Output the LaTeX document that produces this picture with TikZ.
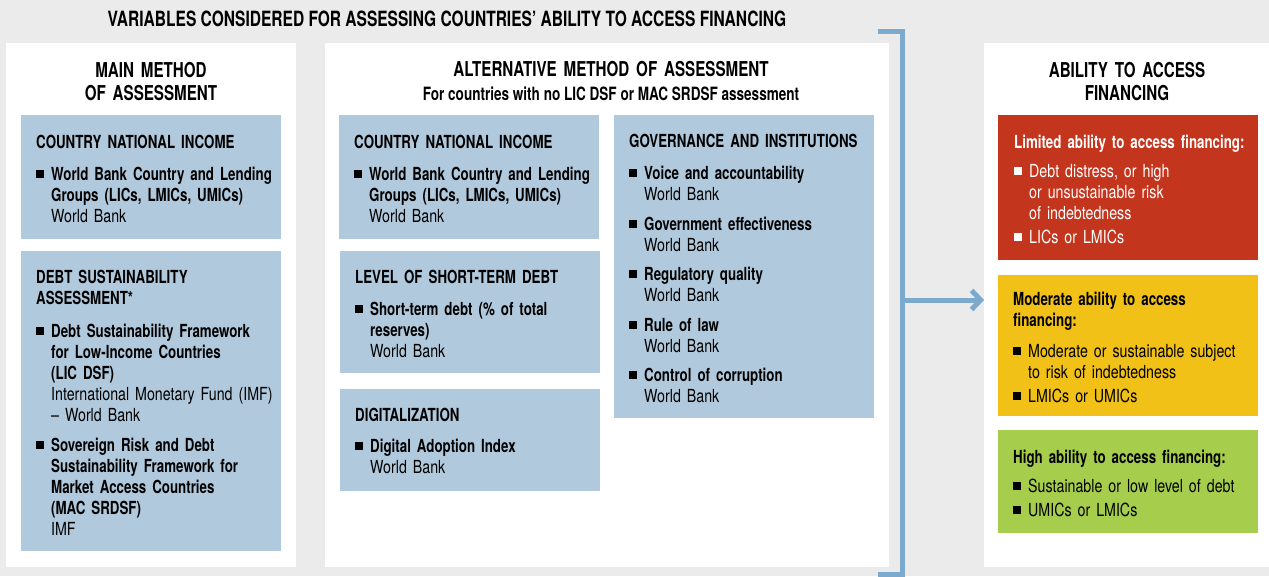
\documentclass[tikz,border=0pt]{standalone}
\usepackage{fontspec}
\setmainfont{TeX Gyre Heros}[FakeStretch=0.79, BoldFeatures={FakeStretch=0.74}]
\usetikzlibrary{positioning,arrows.meta}

\definecolor{bggray}{HTML}{EBEBEB}
\definecolor{boxblue}{HTML}{B1C9DC}
\definecolor{linkblue}{HTML}{7BAACE}
\definecolor{limred}{HTML}{C4351D}
\definecolor{modyellow}{HTML}{F1C117}
\definecolor{highgreen}{HTML}{A6CD4C}

% bullet square, heading and list item inside the boxes
\newcommand\sqbullet{\rule[2.5pt]{8pt}{8pt}}
\newcommand\boxhead[2][11pt]{{\bfseries #2\par}\vspace{#1}}
\newcommand\bitem[1]{\par\hangindent=15pt\hangafter=1\noindent\makebox[15pt][l]{\sqbullet}#1\par}
\newcommand\igap[1][8.5pt]{\vspace{#1}}

\tikzset{
  panel/.style={fill=white, inner sep=0, outer sep=0, anchor=north west},
  bluebox/.style={fill=boxblue, inner sep=0, outer sep=0, anchor=north west,
    minimum width=260},
  boxtxt/.style={inner sep=0, anchor=base west, text width=245, align=left,
    font=\fontsize{18}{21}\selectfont},
  panelhead/.style={inner sep=0, anchor=base, text width=330, align=center,
    font=\bfseries\fontsize{20.5}{23}\selectfont},
  bracket/.style={draw=linkblue, line width=5pt, line join=miter},
  linkarrow/.style={draw=linkblue, line width=5pt,
    -{Straight Barb[length=9pt,width=19pt]}}
}

\begin{document}
\begin{tikzpicture}[x=1pt,y=-1pt]
  \fill[bggray] (0,0) rectangle (1269,576);
  \useasboundingbox (0,0) rectangle (1269,576);

  \node[inner sep=0, anchor=base, font=\bfseries\fontsize{21}{24}\selectfont]
    (title) at (447,26.7) {VARIABLES CONSIDERED FOR ASSESSING COUNTRIES’ ABILITY TO ACCESS FINANCING};

  % three white panels
  \node[panel, minimum width=290, minimum height=524] (mainpanel) at (6,43) {};
  \node[panel, minimum width=564, minimum height=524] (altpanel) at (325,43) {};
  \node[panel, minimum width=285, minimum height=524] (abilpanel) at (984,43) {};

  \node[panelhead] (mainhead) at (151,77) {MAIN METHOD\\OF ASSESSMENT};
  \node[panelhead, text width=500] (althead) at (611,76.7) {ALTERNATIVE METHOD OF ASSESSMENT};
  \node[inner sep=0, anchor=base, font=\bfseries\fontsize{18.3}{20}\selectfont]
    (altsub) at (611,100) {For countries with no LIC DSF or MAC SRDSF assessment};
  \node[panelhead] (abilhead) at (1127,77) {ABILITY TO ACCESS\\FINANCING};

  % main method
  \node[bluebox, minimum height=124] (mainincome) at (21,115) {};
  \node[boxtxt] (mainincometxt) at ([shift={(15,33)}]mainincome.north west) {%
    \boxhead{COUNTRY NATIONAL INCOME}
    \bitem{\textbf{World Bank Country and Lending}\newline\textbf{Groups (LICs, LMICs, UMICs)}\newline World Bank}};

  \node[bluebox, minimum height=300] (maindebt) at (21,251) {};
  \node[boxtxt] (maindebttxt) at ([shift={(15,32)}]maindebt.north west) {%
    \boxhead[12pt]{DEBT SUSTAINABILITY\\ASSESSMENT*}
    \bitem{\textbf{Debt Sustainability Framework}\newline\textbf{for Low-Income Countries}\newline\textbf{(LIC DSF)}\newline International Monetary Fund (IMF)\newline– World Bank}
    \igap[9pt]
    \bitem{\textbf{Sovereign Risk and Debt}\newline\textbf{Sustainability Framework for}\newline\textbf{Market Access Countries}\newline\textbf{(MAC SRDSF)}\newline IMF}};

  % alternative method
  \node[bluebox, minimum height=124] (altincome) at (339,115) {};
  \node[boxtxt] (altincometxt) at ([shift={(15,33)}]altincome.north west) {%
    \boxhead{COUNTRY NATIONAL INCOME}
    \bitem{\textbf{World Bank Country and Lending}\newline\textbf{Groups (LICs, LMICs, UMICs)}\newline World Bank}};

  \node[bluebox, minimum height=122] (altshort) at (340,251) {};
  \node[boxtxt] (altshorttxt) at ([shift={(15,32.5)}]altshort.north west) {%
    \boxhead{LEVEL OF SHORT-TERM DEBT}
    \bitem{\textbf{Short-term debt (\% of total}\newline\textbf{reserves)}\newline World Bank}};

  \node[bluebox, minimum height=102] (altdigital) at (340,389) {};
  \node[boxtxt] (altdigitaltxt) at ([shift={(15,32.7)}]altdigital.north west) {%
    \boxhead[10pt]{DIGITALIZATION}
    \bitem{\textbf{Digital Adoption Index}\newline World Bank}};

  \node[bluebox, minimum height=303] (altgov) at (614,115) {};
  \node[boxtxt] (altgovtxt) at ([shift={(15,32.7)}]altgov.north west) {%
    \boxhead{GOVERNANCE AND INSTITUTIONS}
    \bitem{\textbf{Voice and accountability}\newline World Bank}\igap
    \bitem{\textbf{Government effectiveness}\newline World Bank}\igap
    \bitem{\textbf{Regulatory quality}\newline World Bank}\igap
    \bitem{\textbf{Rule of law}\newline World Bank}\igap
    \bitem{\textbf{Control of corruption}\newline World Bank}};

  % ability to access financing
  \node[bluebox, fill=limred, minimum height=145] (limited) at (998,115) {};
  \node[boxtxt, text=white] (limitedtxt) at ([shift={(16,33.3)}]limited.north west) {%
    \boxhead[8.5pt]{Limited ability to access financing:}
    \bitem{Debt distress, or high\newline or unsustainable risk\newline of indebtedness}\igap[3pt]
    \bitem{LICs or LMICs}};

  \node[bluebox, fill=modyellow, minimum height=141] (moderate) at (998,275) {};
  \node[boxtxt] (moderatetxt) at ([shift={(15,30)}]moderate.north west) {%
    \boxhead[10pt]{Moderate ability to access\\financing:}
    \bitem{Moderate or sustainable subject\newline to risk of indebtedness}\igap[3pt]
    \bitem{LMICs or UMICs}};

  \node[bluebox, fill=highgreen, minimum height=103] (high) at (998,430) {};
  \node[boxtxt] (hightxt) at ([shift={(15,33.3)}]high.north west) {%
    \boxhead[8pt]{High ability to access financing:}
    \bitem{Sustainable or low level of debt}\igap[3.5pt]
    \bitem{UMICs or LMICs}};

  % bracket and arrow
  \coordinate (brktop) at (878,31);
  \coordinate (brkbot) at (878,574);
  \coordinate (brkmid) at (902,300);
  \draw[bracket] (brktop) -| (brkbot -| brkmid) -- (brkbot);
  \draw[linkarrow] (brkmid) -- (brkmid -| abilpanel.west);
\end{tikzpicture}
\end{document}
